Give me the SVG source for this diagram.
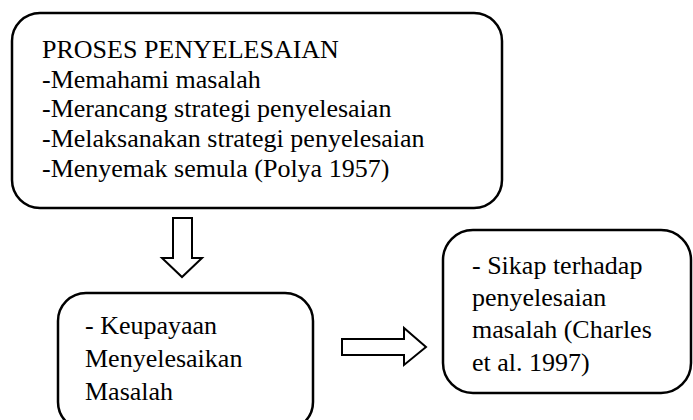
<svg xmlns="http://www.w3.org/2000/svg" width="693" height="420" viewBox="0 0 693 420">
<style>
.box{fill:#fff;stroke:#000;stroke-width:2.5}
.arr{fill:#fff;stroke:#000;stroke-width:2;stroke-linejoin:miter}
text{font-family:"Liberation Serif","Times New Roman",serif;font-size:26px;fill:#000}
</style>
<rect width="693" height="420" fill="#fff"/>
<g id="node-proses">
<rect class="box" x="12" y="13" width="490" height="195" rx="28" ry="28"/>
<text x="42" y="58">PROSES PENYELESAIAN</text>
<text x="42" y="88">-Memahami masalah</text>
<text x="42" y="117">-Merancang strategi penyelesaian</text>
<text x="42" y="147">-Melaksanakan strategi penyelesaian</text>
<text x="42" y="177">-Menyemak semula (Polya 1957)</text>
</g>
<g id="node-keupayaan">
<rect class="box" x="58" y="293" width="255" height="137" rx="28" ry="28"/>
<text x="85" y="334">- Keupayaan</text>
<text x="85" y="367">Menyelesaikan</text>
<text x="85" y="400">Masalah</text>
</g>
<g id="node-sikap">
<rect class="box" x="443" y="230" width="248" height="163" rx="30" ry="30"/>
<text x="472" y="274">- Sikap terhadap</text>
<text x="472" y="306">penyelesaian</text>
<text x="472" y="338">masalah (Charles</text>
<text x="472" y="371">et al. 1997)</text>
</g>
<g id="connectors">
<path class="arr" d="M173 218 H192 V258 H202 L182 277 L162 258 H173 Z"/>
<path class="arr" d="M342 339 H404 V328 L426 347 L404 365 V355 H342 Z"/>
</g>
</svg>
